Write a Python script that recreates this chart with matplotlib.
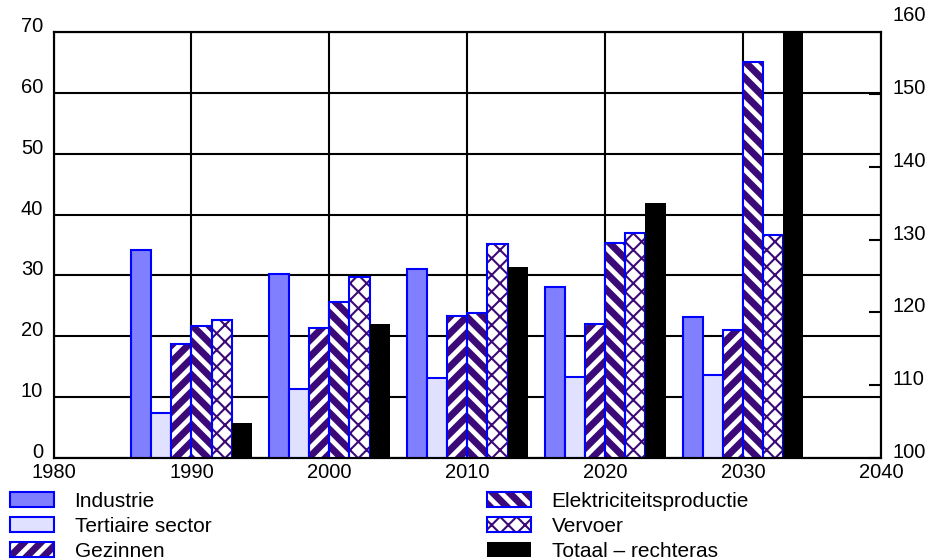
import matplotlib
matplotlib.use("Agg")
import matplotlib.pyplot as plt
import matplotlib.patches as mpatches
import matplotlib.transforms as mtransforms
from matplotlib.legend_handler import HandlerTuple
import numpy as np

# Energy demand per sector (left axis) and total index (right axis)
years = [1990, 2000, 2010, 2020, 2030]
industrie = [34.2, 30.3, 31.0, 28.1, 23.2]
tertiaire = [7.4, 11.3, 13.1, 13.3, 13.7]
gezinnen = [18.7, 21.3, 23.4, 22.0, 21.1]
elektriciteit = [21.7, 25.7, 23.8, 35.3, 65.0]
vervoer = [22.7, 29.8, 35.1, 37.0, 36.6]
totaal = [104.8, 118.4, 126.2, 135.0, 160.0]

labels = ["Industrie", "Tertiaire sector", "Gezinnen",
          "Elektriciteitsproductie", "Vervoer", "Totaal \u2013 rechteras"]

left_ticks = list(range(0, 71, 10))
right_ticks = list(range(100, 151, 10))
x_ticks = list(range(1980, 2041, 10))

plt.rcParams["font.family"] = ["Liberation Sans", "DejaVu Sans"]

BLUE = "#0000ff"
PURPLE = "#3c0a78"
IND_FILL = "#8080ff"
TER_FILL = "#e0e0ff"
EDGE_LW = 1.5
FS = 14.5
STRIPE_LW = 5.0
CROSS_LW = 1.5
HATCH_LW = {"//": STRIPE_LW, "\\\\": STRIPE_LW, "xx": CROSS_LW}

fig = plt.figure(figsize=(9.3, 5.6), dpi=100)
ax = fig.add_axes([53.5 / 930, 1 - 458 / 560, (881 - 53.5) / 930, (458 - 32) / 560])
ax2 = ax.twinx()

x = np.array(years, dtype=float)
w = 1.46
offsets = (np.arange(6) - 2.5) * w


def solid_bars(axis, xs, vals, fill):
    axis.bar(xs, vals, w, color=fill, edgecolor=BLUE, linewidth=EDGE_LW, zorder=3)


def hatched_bars(axis, xs, vals, hatch):
    hlw = HATCH_LW[hatch]
    with plt.rc_context({"hatch.linewidth": hlw}):
        bars = axis.bar(xs, vals, w, color="white", edgecolor=PURPLE,
                        linewidth=0, hatch=hatch, zorder=3)
    for p in bars:
        if hasattr(p, "set_hatch_linewidth"):
            p.set_hatch_linewidth(hlw)
    axis.bar(xs, vals, w, fill=False, edgecolor=BLUE, linewidth=EDGE_LW, zorder=4)


solid_bars(ax, x + offsets[0], industrie, IND_FILL)
solid_bars(ax, x + offsets[1], tertiaire, TER_FILL)
hatched_bars(ax, x + offsets[2], gezinnen, "//")
hatched_bars(ax, x + offsets[3], elektriciteit, "\\\\")
hatched_bars(ax, x + offsets[4], vervoer, "xx")
ax2.bar(x + offsets[5], totaal, w, color="black", linewidth=0, zorder=3)

# Left axis / grid
ax.set_xlim(1980, 2040)
ax.set_xticks(x_ticks)
ax.set_ylim(0, 70)
ax.set_yticks(left_ticks)
ax.set_axisbelow(True)
ax.grid(True, color="black", linewidth=1.5)
ax.tick_params(axis="x", length=0, pad=3.5, labelsize=FS)
ax.tick_params(axis="y", length=0, pad=7.5, labelsize=FS)
for lbl in ax.get_yticklabels():
    lbl.set_verticalalignment("baseline")

# Right axis
ax2.set_ylim(100, 158.5)
ax2.set_yticks(right_ticks)
ax2.tick_params(axis="y", direction="in", length=9, width=1.5, pad=8, labelsize=FS)
for lbl in ax2.get_yticklabels():
    lbl.set_verticalalignment("baseline")
top_tf = mtransforms.blended_transform_factory(ax2.transAxes, ax2.transData) + \
    mtransforms.ScaledTranslation(8 / 72, 0, fig.dpi_scale_trans)
ax2.text(1.0, 160, "160", transform=top_tf, fontsize=FS, ha="left",
         va="baseline", clip_on=False)

for a in (ax, ax2):
    for s in a.spines.values():
        s.set_linewidth(1.5)
        s.set_color("black")

# Legend handles
def hatched_handle(hatch):
    h = mpatches.Patch(facecolor="white", edgecolor=PURPLE, linewidth=0, hatch=hatch)
    o = mpatches.Patch(fill=False, edgecolor=BLUE, linewidth=EDGE_LW)
    return (h, o)


handles = [
    mpatches.Patch(facecolor=IND_FILL, edgecolor=BLUE, linewidth=EDGE_LW),
    mpatches.Patch(facecolor=TER_FILL, edgecolor=BLUE, linewidth=EDGE_LW),
    hatched_handle("//"),
    hatched_handle("\\\\"),
    hatched_handle("xx"),
    mpatches.Patch(facecolor="black", linewidth=0),
]

leg_kw = dict(loc="upper left", frameon=False, fontsize=15, handlelength=2.1,
              handleheight=0.76, handletextpad=1.0, labelspacing=0.28,
              borderpad=0, borderaxespad=0,
              handler_map={tuple: HandlerTuple(ndivide=1, pad=0)})
leg1 = fig.legend(handles[:3], labels[:3], bbox_to_anchor=(10 / 930, 1 - 492 / 560), **leg_kw)
leg2 = fig.legend(handles[3:], labels[3:], bbox_to_anchor=(487 / 930, 1 - 492 / 560), **leg_kw)

# Legend copies of the patches need the same hatch stroke widths
for leg in (leg1, leg2):
    for p in leg.findobj(mpatches.Patch):
        hatch = p.get_hatch()
        if hatch in HATCH_LW and hasattr(p, "set_hatch_linewidth"):
            p.set_hatch_linewidth(HATCH_LW[hatch])

fig.savefig("out.png", dpi=100)
